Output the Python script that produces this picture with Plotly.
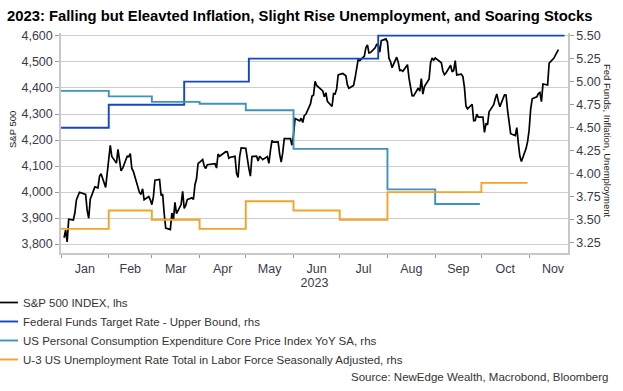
import plotly.graph_objects as go

# ---------------- data ----------------
spx_dates = [
    "2023-01-03","2023-01-04","2023-01-05","2023-01-06","2023-01-09","2023-01-10","2023-01-11","2023-01-12","2023-01-13",
    "2023-01-17","2023-01-18","2023-01-19","2023-01-20","2023-01-23","2023-01-24","2023-01-25","2023-01-26","2023-01-27",
    "2023-01-30","2023-01-31",
    "2023-02-01","2023-02-02","2023-02-03","2023-02-06","2023-02-07","2023-02-08","2023-02-09","2023-02-10","2023-02-13",
    "2023-02-14","2023-02-15","2023-02-16","2023-02-17","2023-02-21","2023-02-22","2023-02-23","2023-02-24","2023-02-27",
    "2023-02-28",
    "2023-03-01","2023-03-02","2023-03-03","2023-03-06","2023-03-07","2023-03-08","2023-03-09","2023-03-10","2023-03-13",
    "2023-03-14","2023-03-15","2023-03-16","2023-03-17","2023-03-20","2023-03-21","2023-03-22","2023-03-23","2023-03-24",
    "2023-03-27","2023-03-28","2023-03-29","2023-03-30","2023-03-31",
    "2023-04-03","2023-04-04","2023-04-05","2023-04-06","2023-04-10","2023-04-11","2023-04-12","2023-04-13","2023-04-14",
    "2023-04-17","2023-04-18","2023-04-19","2023-04-20","2023-04-21","2023-04-24","2023-04-25","2023-04-26","2023-04-27",
    "2023-04-28",
    "2023-05-01","2023-05-02","2023-05-03","2023-05-04","2023-05-05","2023-05-08","2023-05-09","2023-05-10","2023-05-11",
    "2023-05-12","2023-05-15","2023-05-16","2023-05-17","2023-05-18","2023-05-19","2023-05-22","2023-05-23","2023-05-24",
    "2023-05-25","2023-05-26","2023-05-30","2023-05-31",
    "2023-06-01","2023-06-02","2023-06-05","2023-06-06","2023-06-07","2023-06-08","2023-06-09","2023-06-12","2023-06-13",
    "2023-06-14","2023-06-15","2023-06-16","2023-06-20","2023-06-21","2023-06-22","2023-06-23","2023-06-26","2023-06-27",
    "2023-06-28","2023-06-29","2023-06-30",
    "2023-07-03","2023-07-05","2023-07-06","2023-07-07","2023-07-10","2023-07-11","2023-07-12","2023-07-13","2023-07-14",
    "2023-07-17","2023-07-18","2023-07-19","2023-07-20","2023-07-21","2023-07-24","2023-07-25","2023-07-26","2023-07-27",
    "2023-07-28","2023-07-31",
    "2023-08-01","2023-08-02","2023-08-03","2023-08-04","2023-08-07","2023-08-08","2023-08-09","2023-08-10","2023-08-11",
    "2023-08-14","2023-08-15","2023-08-16","2023-08-17","2023-08-18","2023-08-21","2023-08-22","2023-08-23","2023-08-24",
    "2023-08-25","2023-08-28","2023-08-29","2023-08-30","2023-08-31",
    "2023-09-01","2023-09-05","2023-09-06","2023-09-07","2023-09-08","2023-09-11","2023-09-12","2023-09-13","2023-09-14",
    "2023-09-15","2023-09-18","2023-09-19","2023-09-20","2023-09-21","2023-09-22","2023-09-25","2023-09-26","2023-09-27",
    "2023-09-28","2023-09-29",
    "2023-10-02","2023-10-03","2023-10-04","2023-10-05","2023-10-06","2023-10-09","2023-10-10","2023-10-11","2023-10-12",
    "2023-10-13","2023-10-16","2023-10-17","2023-10-18","2023-10-19","2023-10-20","2023-10-23","2023-10-24","2023-10-25",
    "2023-10-26","2023-10-27","2023-10-30","2023-10-31",
    "2023-11-01","2023-11-02","2023-11-03","2023-11-06","2023-11-07","2023-11-08","2023-11-09","2023-11-10","2023-11-13",
    "2023-11-14","2023-11-15","2023-11-16","2023-11-17","2023-11-20",
]
spx_values = [
    3824.14,3852.97,3808.10,3895.08,3892.09,3919.25,3969.61,3983.17,3999.09,
    3990.97,3928.86,3898.85,3972.61,4019.81,4016.95,4016.22,4060.43,4070.56,
    4017.77,4076.60,
    4119.21,4179.76,4136.48,4111.08,4164.00,4117.86,4081.50,4090.46,4137.29,
    4136.13,4147.60,4090.41,4079.09,3997.34,3991.05,4012.32,3970.04,3982.24,
    3970.15,
    3951.39,3981.35,4045.64,4048.42,3986.37,3992.01,3918.32,3861.59,3855.76,
    3919.29,3891.93,3960.28,3916.64,3951.57,4002.87,3936.97,3948.72,3970.99,
    3977.53,3971.27,4027.81,4050.83,4109.31,
    4124.51,4100.60,4090.38,4105.02,4109.11,4108.94,4091.95,4146.22,4137.64,
    4151.32,4154.87,4154.52,4129.79,4133.52,4137.04,4071.63,4055.99,4135.35,
    4169.48,
    4167.87,4119.58,4090.75,4061.22,4136.25,4138.12,4119.17,4137.64,4130.62,
    4124.08,4136.28,4109.90,4158.77,4198.05,4191.98,4192.63,4145.58,4115.24,
    4151.28,4205.45,4205.52,4179.83,
    4221.02,4282.37,4273.79,4283.85,4267.52,4293.93,4298.86,4338.93,4369.01,
    4372.59,4425.84,4409.59,4388.71,4365.69,4381.89,4348.33,4328.82,4378.41,
    4376.86,4396.44,4450.38,
    4455.59,4446.82,4411.59,4398.95,4409.53,4439.26,4472.16,4510.04,4505.42,
    4522.79,4554.98,4565.72,4534.87,4536.34,4554.64,4567.46,4566.75,4537.41,
    4582.23,4588.96,
    4576.73,4513.39,4501.89,4478.03,4518.44,4499.38,4467.71,4468.83,4464.05,
    4489.72,4437.86,4404.33,4370.36,4369.71,4399.77,4387.55,4436.01,4376.31,
    4405.71,4433.31,4497.63,4514.87,4507.66,
    4515.77,4496.83,4465.48,4451.14,4457.49,4487.46,4461.90,4467.44,4505.10,
    4450.32,4453.53,4443.95,4402.20,4330.00,4320.06,4337.44,4273.53,4274.51,
    4299.70,4288.05,
    4288.39,4229.45,4263.75,4258.19,4308.50,4335.66,4358.24,4376.95,4349.61,
    4327.78,4373.63,4373.20,4314.60,4278.00,4224.16,4217.04,4247.68,4186.77,
    4137.23,4117.37,4166.82,4193.80,
    4237.86,4317.78,4358.34,4365.98,4378.38,4382.78,4347.35,4415.24,4411.55,
    4495.70,4502.88,4508.24,4514.02,4547.38,
]

fed_dates = ["2023-01-01", "2023-02-01", "2023-03-22", "2023-05-03", "2023-07-26", "2023-11-24"]
fed_values = [4.50, 4.75, 5.00, 5.25, 5.50, 5.50]

pce_dates = ["2023-01-01", "2023-02-01", "2023-03-01", "2023-04-01", "2023-05-01",
             "2023-06-01", "2023-07-01", "2023-08-01", "2023-09-01", "2023-09-30"]
pce_values = [4.90, 4.84, 4.78, 4.76, 4.69, 4.27, 4.27, 3.83, 3.67, 3.67]

unemp_dates = ["2023-01-01", "2023-02-01", "2023-03-01", "2023-04-01", "2023-05-01",
               "2023-06-01", "2023-07-01", "2023-08-01", "2023-09-01", "2023-10-01", "2023-10-31"]
unemp_values = [3.4, 3.6, 3.5, 3.4, 3.7, 3.6, 3.5, 3.8, 3.8, 3.9, 3.9]

left_ticks = [3800, 3900, 4000, 4100, 4200, 4300, 4400, 4500, 4600]
right_ticks = [3.25, 3.50, 3.75, 4.00, 4.25, 4.50, 4.75, 5.00, 5.25, 5.50]

names = [
    "S&P 500 INDEX, lhs",
    "Federal Funds Target Rate - Upper Bound, rhs",
    "US Personal Consumption Expenditure Core Price Index YoY SA, rhs",
    "U-3 US Unemployment Rate Total in Labor Force Seasonally Adjusted, rhs",
]
colors = ["#000000", "#1446c8", "#3d94bb", "#f4a32a"]

FONT = "Liberation Sans, Arial, sans-serif"
TICK_COLOR = "#3a3a4c"

# plot-area geometry (pixels) used to place free text
W, H = 623, 391
L, R, T, B = 61, 55, 33, 138
PW, PH = W - L - R, H - T - B


def px_x(x):
    return (x - L) / PW


def px_y(y):
    return (H - B - y) / PH


fig = go.Figure()
fig.add_trace(go.Scatter(x=spx_dates, y=spx_values, name=names[0], mode="lines",
                         line=dict(color=colors[0], width=1.7), yaxis="y"))
fig.add_trace(go.Scatter(x=fed_dates, y=fed_values, name=names[1], mode="lines",
                         line=dict(color=colors[1], width=1.9, shape="hv"), yaxis="y2"))
fig.add_trace(go.Scatter(x=pce_dates, y=pce_values, name=names[2], mode="lines",
                         line=dict(color=colors[2], width=1.9, shape="hv"), yaxis="y2"))
fig.add_trace(go.Scatter(x=unemp_dates, y=unemp_values, name=names[3], mode="lines",
                         line=dict(color=colors[3], width=1.9, shape="hv"), yaxis="y2"))

fig.update_layout(
    width=W, height=H,
    margin=dict(l=L, r=R, t=T, b=B, autoexpand=False),
    paper_bgcolor="white", plot_bgcolor="white",
    font=dict(family=FONT, size=12.5, color=TICK_COLOR),
    title=dict(text="<b>2023: Falling but Eleavted Inflation, Slight Rise Unemployment, and Soaring Stocks</b>",
               x=7/W, xref="container", xanchor="left",
               y=1-16/H, yref="container", yanchor="middle",
               font=dict(family=FONT, size=14.8, color="#000000")),
    xaxis=dict(type="date", range=["2023-01-01", "2023-11-26 06:00"],
               dtick="M1", tick0="2023-01-01", tickformat="%b", ticklabelmode="period",
               ticks="outside", ticklen=3, tickcolor="#9a9a9a", tickwidth=1,
               showline=True, linecolor="#c8c8c8", linewidth=1.5, showgrid=False,
               zeroline=False, tickfont=dict(size=12.5, color=TICK_COLOR),
               title=dict(text="2023", standoff=2, font=dict(size=12.5, color=TICK_COLOR))),
    yaxis=dict(range=[3765.4, 4611.5], tickvals=left_ticks, tickformat=",",
               ticks="outside", ticklen=4, tickcolor="#9a9a9a",
               showline=True, linecolor="#c8c8c8", linewidth=1.5,
               showgrid=True, gridcolor="#cdcdcd", gridwidth=1.3, zeroline=False,
               tickfont=dict(size=12.5, color=TICK_COLOR)),
    yaxis2=dict(range=[3.138, 5.529], tickvals=right_ticks, tickformat=".2f",
                overlaying="y", side="right",
                ticks="outside", ticklen=4, tickcolor="#9a9a9a",
                showline=True, linecolor="#c8c8c8", linewidth=1.5,
                showgrid=False, zeroline=False,
                tickfont=dict(size=12.5, color=TICK_COLOR)),
    legend=dict(xref="paper", yref="paper", x=px_x(-17), xanchor="left",
                y=px_y(288), yanchor="top", orientation="v",
                font=dict(family=FONT, size=11.5, color="#333333"),
                itemwidth=30, tracegroupgap=0, bgcolor="rgba(0,0,0,0)"),
    showlegend=True,
)

fig.add_annotation(text="S&P 500", xref="paper", yref="paper", x=px_x(12), y=px_y(130),
                   textangle=-90, showarrow=False, xanchor="center", yanchor="middle",
                   font=dict(family=FONT, size=9.5, color="#222222"))
fig.add_annotation(text="Fed Funds, Inflation, Unemployment", xref="paper", yref="paper",
                   x=px_x(608), y=px_y(140), textangle=90, showarrow=False,
                   xanchor="center", yanchor="middle",
                   font=dict(family=FONT, size=9.5, color="#222222"))
fig.add_annotation(text="Source: NewEdge Wealth, Macrobond, Bloomberg", xref="paper", yref="paper",
                   x=px_x(610), y=px_y(377), xanchor="right", yanchor="middle", showarrow=False,
                   font=dict(family=FONT, size=11.5, color="#333333"))

fig.write_html("out.html", config={"displayModeBar": False},
               post_script="document.body.style.margin='0px';")
